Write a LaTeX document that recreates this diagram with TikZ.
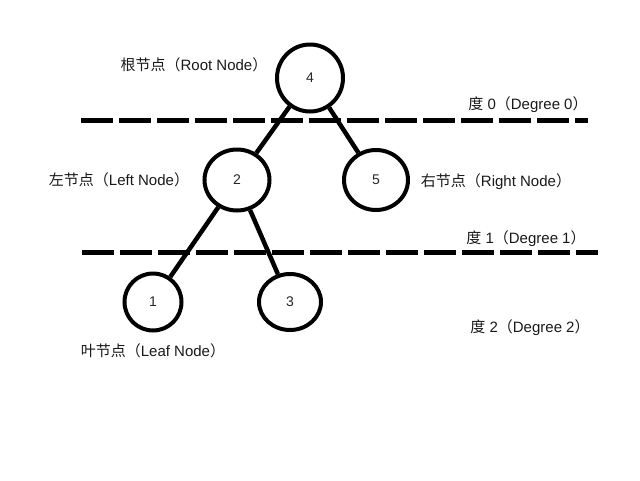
\documentclass[tikz,border=0pt]{standalone}
\usepackage{fontspec}
\setmainfont{Liberation Sans}
\newfontfamily\cjk{Noto Sans CJK SC}
\usetikzlibrary{shapes.geometric}

\newcommand{\zh}[1]{{\cjk #1}}

\tikzset{
    line join=round,
    treenode/.style={
        ellipse,
        draw=black,
        line width=4pt,
        minimum width=64pt,
        minimum height=60pt,
        inner sep=0pt,
        text=black!85,
        font=\fontsize{14}{16}\selectfont
    },
    treeedge/.style={
        draw=black,
        line width=4.5pt
    },
    levelline/.style={
        draw=black,
        line width=5pt,
        dash pattern=on 32pt off 6pt
    },
    annot/.style={
        font=\fontsize{15}{17}\selectfont,
        text=black!90,
        inner sep=0pt
    }
}

\begin{document}
\begin{tikzpicture}[x=1pt, y=-1pt]
    \useasboundingbox (0,0) rectangle (640,480);

    % Level separators
    \coordinate (lvl0w) at (81,120);
    \coordinate (lvl0e) at (588,120);
    \coordinate (lvl1w) at (82,252);
    \coordinate (lvl1e) at (598,252);
    \draw[levelline] (lvl0w) -- (lvl0e);
    \draw[levelline] (lvl1w) -- (lvl1e);

    % Tree nodes
    \node[treenode, minimum width=66pt, minimum height=67pt] (n4) at (310,78) {4};
    \node[treenode, minimum width=65pt, minimum height=61pt] (n2) at (237,180) {2};
    \node[treenode] (n5) at (376,180) {5};
    \node[treenode, minimum width=57pt, minimum height=57pt] (n1) at (153,302) {1};
    \node[treenode, minimum width=62pt, minimum height=56pt] (n3) at (290,302) {3};

    % Edges
    \draw[treeedge] (n4) -- (n2);
    \draw[treeedge] (n4) -- (n5);
    \draw[treeedge] (n2) -- (n1);
    \draw[treeedge] (n2) -- (n3);

    % Annotations
    \node[annot] (rootlabel) at (194,65) {\zh{根节点（}Root Node\zh{）}};
    \node[annot] (leftlabel) at (119,180) {\zh{左节点（}Left Node\zh{）}};
    \node[annot] (rightlabel) at (496,182) {\zh{右节点（}Right Node\zh{）}};
    \node[annot] (leaflabel) at (153,351) {\zh{叶节点（}Leaf Node\zh{）}};
    \node[annot] (deg0) at (528,105) {\zh{度} 0\zh{（}Degree 0\zh{）}};
    \node[annot] (deg1) at (526,239) {\zh{度} 1\zh{（}Degree 1\zh{）}};
    \node[annot] (deg2) at (530,328) {\zh{度} 2\zh{（}Degree 2\zh{）}};
\end{tikzpicture}
\end{document}
